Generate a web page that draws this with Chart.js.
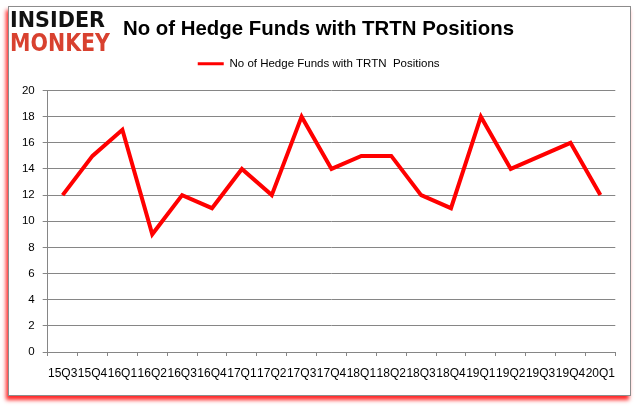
<!DOCTYPE html>
<html>
<head>
<meta charset="utf-8">
<script src="https://cdn.jsdelivr.net/npm/chart.js@4.4.1/dist/chart.umd.min.js"></script>
<style>
  html, body { margin: 0; padding: 0; background: #fff; }
  body { width: 637px; height: 408px; position: relative; overflow: hidden; }
  .frame {
    position: absolute; left: 8px; top: 6px; width: 621px; height: 388px;
    border: 1px solid #8c8c8c; background: #fff;
    box-shadow: -2px 4px 4px rgba(255, 0, 0, 0.85);
  }
  canvas { position: absolute; left: 0; top: 0; }
  .fit { position: absolute; white-space: nowrap; transform-origin: 0 0; }
  .logo { font-family: "DejaVu Sans", sans-serif; font-weight: bold; }
  #logoTop { left: 10px; top: 9px; font-size: 22px; line-height: 22px; color: #111; }
  #logoBottom { left: 10px; top: 31px; font-size: 24px; line-height: 24px; color: #d8412f; }
  #title {
    left: 123px; top: 16px; font-family: "Liberation Sans", Arial, sans-serif;
    font-weight: bold; font-size: 21px; line-height: 24px; color: #000;
  }
</style>
</head>
<body>
<div class="frame"></div>
<canvas id="trtnChart" width="637" height="408"></canvas>
<div id="logoTop" class="fit logo" data-w="95">INSIDER</div>
<div id="logoBottom" class="fit logo" data-w="100">MONKEY</div>
<div id="title" class="fit" data-w="391">No of Hedge Funds with TRTN Positions</div>
<script>
// Data
const QUARTERS = [
  "15Q3", "15Q4", "16Q1", "16Q2", "16Q3", "16Q4", "17Q1", "17Q2", "17Q3", "17Q4",
  "18Q1", "18Q2", "18Q3", "18Q4", "19Q1", "19Q2", "19Q3", "19Q4", "20Q1",
];
const HEDGE_FUNDS = [12, 15, 17, 9, 12, 11, 14, 12, 18, 14, 15, 15, 12, 11, 18, 14, 15, 16, 12];
const SERIES_LABEL = "No of Hedge Funds with TRTN  Positions";

const GRID = "#868686";
const FONT = '"Liberation Sans", Arial, sans-serif';

// squeeze text blocks to their measured widths
document.querySelectorAll(".fit").forEach((el) => {
  const w = el.getBoundingClientRect().width;
  const target = Number(el.dataset.w);
  el.style.transform = `scaleX(${target / w})`;
});

// fixed legend height so the plot area starts where it should
const legendHeight = {
  id: "legendHeight",
  beforeInit(chart) {
    const fit = chart.legend.fit;
    chart.legend.fit = function () {
      fit.bind(chart.legend)();
      this.height = 42.5;
    };
  },
};

const ctx = document.getElementById("trtnChart").getContext("2d");
new Chart(ctx, {
  type: "line",
  data: {
    labels: QUARTERS,
    datasets: [
      {
        label: SERIES_LABEL,
        data: HEDGE_FUNDS,
        borderColor: "#ff0000",
        backgroundColor: "#ff0000",
        borderWidth: 4,
        pointRadius: 0,
        tension: 0,
      },
    ],
  },
  plugins: [legendHeight],
  options: {
    responsive: false,
    animation: false,
    layout: { padding: { top: 48, right: 21.7, bottom: 0, left: 22 } },
    plugins: {
      tooltip: { enabled: false },
      legend: {
        position: "top",
        labels: {
          font: { family: FONT, size: 11.5 },
          color: "#000",
          boxWidth: 26,
          boxHeight: 3,
          padding: 10,
          generateLabels: (chart) =>
            Chart.defaults.plugins.legend.labels
              .generateLabels(chart)
              .map((item) => ({ ...item, lineWidth: 0 })),
        },
      },
    },
    scales: {
      x: {
        offset: true,
        afterFit: (scale) => { scale.height = 56; },
        grid: {
          offset: true,
          drawOnChartArea: false,
          drawTicks: true,
          tickLength: 4,
          color: GRID,
        },
        border: { display: true, color: GRID },
        ticks: {
          autoSkip: false,
          maxRotation: 0,
          minRotation: 0,
          padding: 10,
          color: "#000",
          font: { family: FONT, size: 12 },
        },
      },
      y: {
        min: 0,
        max: 20,
        afterFit: (scale) => { scale.width = 25.7; },
        grid: { color: GRID, tickLength: 5 },
        border: { display: true, color: GRID },
        ticks: {
          stepSize: 2,
          padding: 8,
          color: "#000",
          font: { family: FONT, size: 11.5 },
        },
      },
    },
  },
});
</script>
</body>
</html>
